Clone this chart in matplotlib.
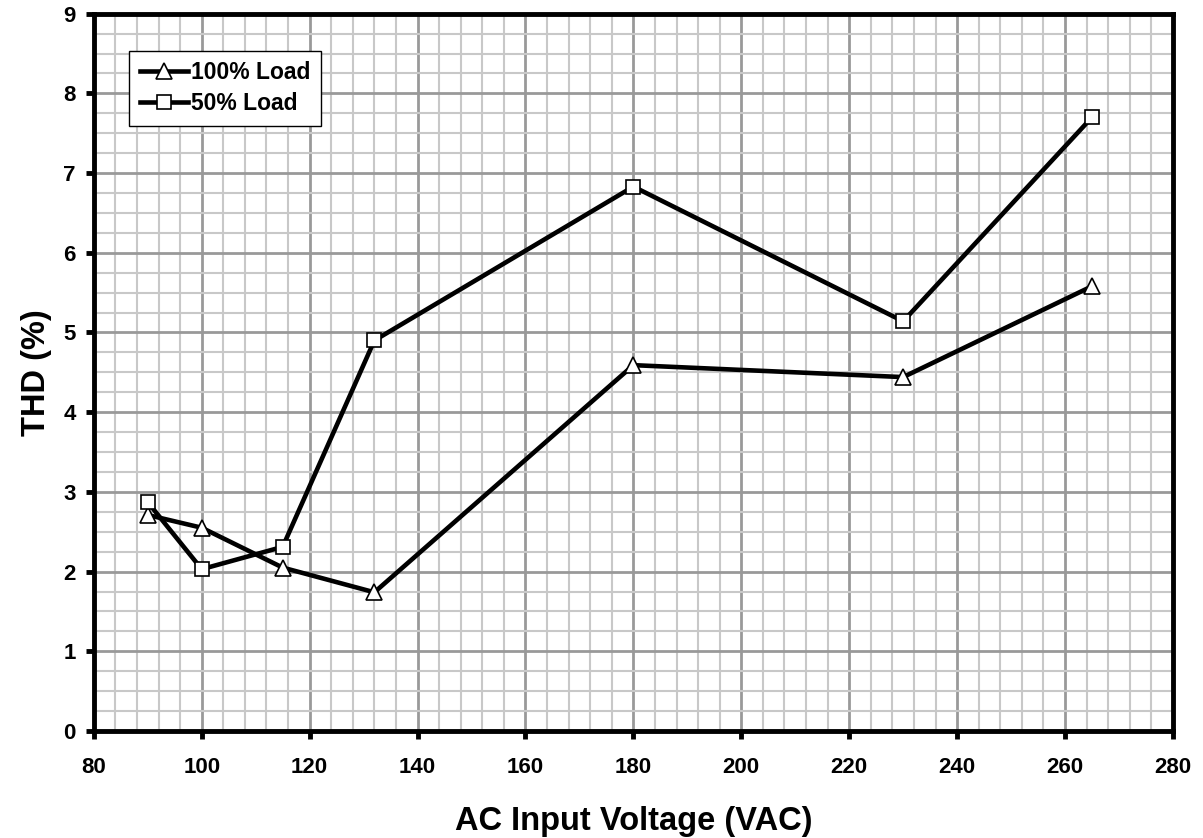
import matplotlib.pyplot as plt
from matplotlib.ticker import MultipleLocator

# data
voltage = [90, 100, 115, 132, 180, 230, 265]
thd_full_load = [2.71, 2.55, 2.05, 1.74, 4.59, 4.44, 5.58]
thd_half_load = [2.87, 2.03, 2.31, 4.90, 6.83, 5.14, 7.70]
series_names = ['100% Load', '50% Load']

plt.rcParams['font.family'] = ['Liberation Sans', 'DejaVu Sans']
plt.rcParams['font.weight'] = 'bold'

fig = plt.figure(figsize=(12.03, 8.38), dpi=100)
ax = fig.add_axes([0.078, 0.1277, 0.897, 0.856])

ax.plot(voltage, thd_full_load, color='black', lw=3.3, marker='^', ms=12,
        mfc='white', mec='black', mew=1.2, label=series_names[0], zorder=5)
ax.plot(voltage, thd_half_load, color='black', lw=3.3, marker='s', ms=10.5,
        mfc='white', mec='black', mew=1.2, label=series_names[1], zorder=5)

ax.set_xlim(80, 280)
ax.set_ylim(0, 9)
ax.xaxis.set_major_locator(MultipleLocator(20))
ax.xaxis.set_minor_locator(MultipleLocator(4))
ax.yaxis.set_major_locator(MultipleLocator(1))
ax.yaxis.set_minor_locator(MultipleLocator(0.25))

ax.grid(which='major', color='#999999', lw=2)
ax.grid(which='minor', color='#c8c8c8', lw=1.5)
ax.set_axisbelow(True)

for s in ax.spines.values():
    s.set_linewidth(3.5)
ax.tick_params(which='major', direction='out', length=6, width=3.5,
               labelsize=16, pad=7)
ax.tick_params(axis='x', which='major', pad=13)
ax.tick_params(which='minor', length=0)
for lbl in ax.get_xticklabels() + ax.get_yticklabels():
    lbl.set_fontweight('bold')

ax.set_xlabel('AC Input Voltage (VAC)', fontsize=23.5, fontweight='bold', labelpad=20)
ax.set_ylabel('THD (%)', fontsize=23.5, fontweight='bold', labelpad=8)

leg = ax.legend(loc='upper left', bbox_to_anchor=(0.033, 0.948), borderaxespad=0,
                handlelength=2.1, handletextpad=0.15, borderpad=0.45,
                labelspacing=0.35, fancybox=False, framealpha=1,
                edgecolor='black', prop={'weight': 'bold', 'size': 16.5})
leg.get_frame().set_linewidth(1)

fig.savefig('out.png', dpi=100)
